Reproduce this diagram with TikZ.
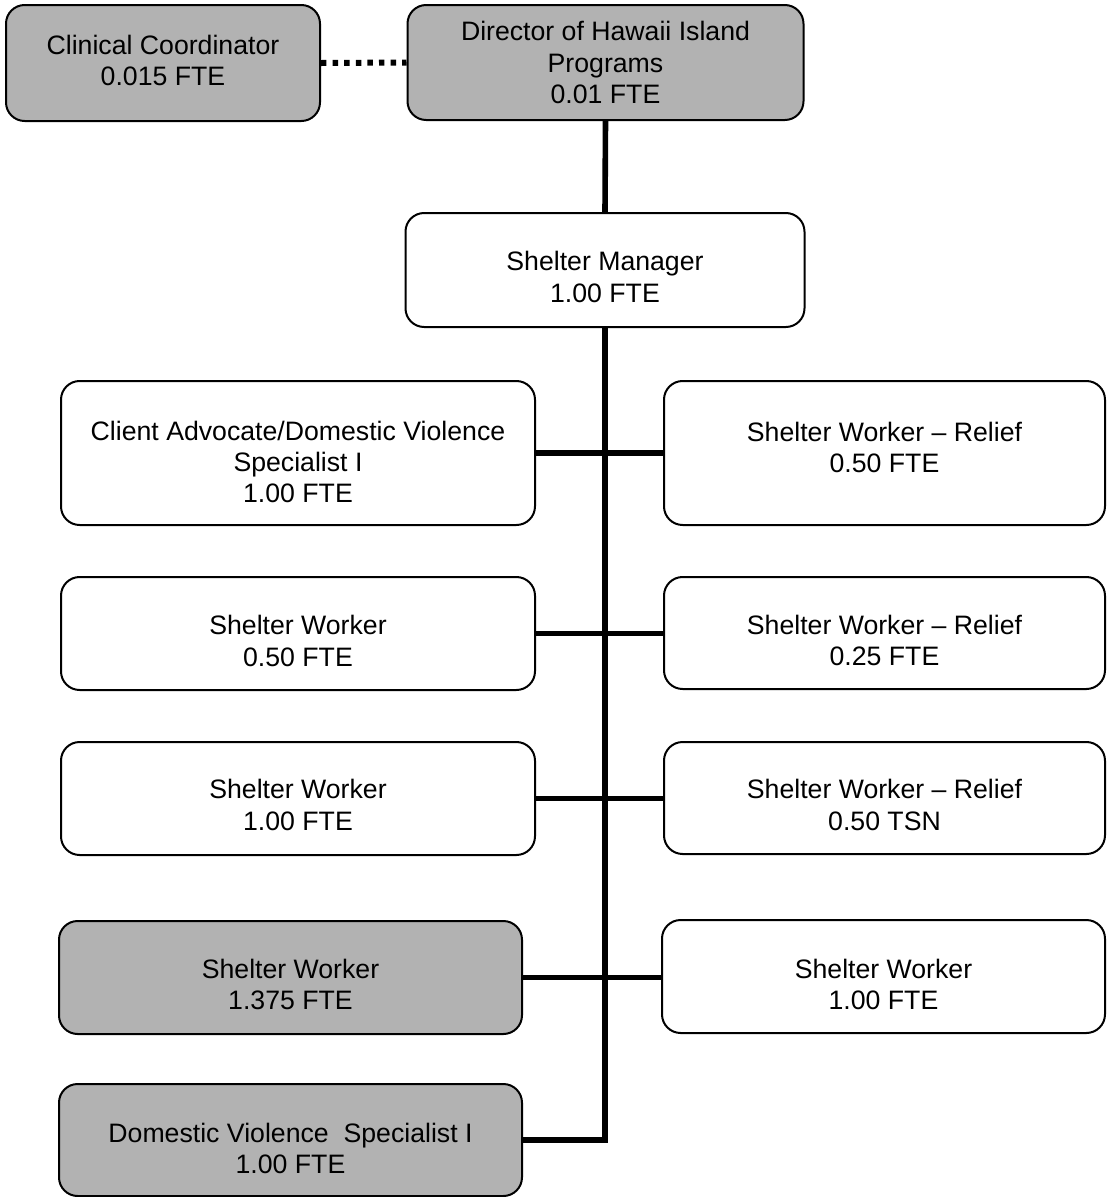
\documentclass[tikz,border=0pt]{standalone}
\usepackage{fontspec}
\setmainfont{Liberation Sans}
\definecolor{boxgray}{RGB}{178,178,178}
\tikzset{
  box/.style={draw=black, line width=1.5pt, rounded corners=14pt, fill=white, inner sep=0pt},
  graybox/.style={box, fill=boxgray},
  txt/.style={align=center, font=\fontsize{20}{23.5}\selectfont, inner sep=0pt},
  conn/.style={line width=4.2pt, line cap=butt},
  dotline/.style={line width=4.5pt, dash pattern=on 4.1pt off 4.6pt}
}
% #1 name, #2 style, #3 cx, #4 cy, #5 width pt, #6 height pt, #7 text shift pt, #8 text
\newcommand\obox[8]{%
  \node[#2, minimum width=#5pt, minimum height=#6pt] (#1) at (#3,#4) {};
  \node[txt] (#1-t) at ([yshift=#7pt]#1.center) {#8};}
\begin{document}
\begin{tikzpicture}[x=0.75pt, y=-0.75pt]
\useasboundingbox (0,0) rectangle (1107,1197);
\obox{cc}{graybox}{163}{63}{235.5}{87}{1.9}{Clinical Coordinator\\0.015 FTE}
\obox{dir}{graybox}{605.5}{62.5}{297}{86.25}{0}{Director of Hawaii Island\\Programs\\0.01 FTE}
\obox{sm}{box}{605}{270}{299.25}{85.5}{-5.25}{Shelter Manager\\1.00 FTE}
\obox{ca}{box}{298}{453}{355.5}{108}{-6.75}{Client Advocate/Domestic Violence\\Specialist I\\1.00 FTE}
\obox{swa}{box}{298}{633.5}{355.5}{84.75}{-5.6}{Shelter Worker\\0.50 FTE}
\obox{swb}{box}{298}{798.5}{355.5}{84.75}{-4.9}{Shelter Worker\\1.00 FTE}
\obox{gsw}{graybox}{290.5}{977.5}{347.25}{84.75}{-5.25}{Shelter Worker\\1.375 FTE}
\obox{dvs}{graybox}{290.5}{1140}{347.25}{84}{-6.4}{Domestic Violence\ \ Specialist I\\1.00 FTE}
\obox{ra}{box}{884.5}{453}{330.75}{108}{4.1}{Shelter Worker -- Relief\\0.50 FTE}
\obox{rb}{box}{884.5}{633}{330.75}{84}{-5.6}{Shelter Worker -- Relief\\0.25 FTE}
\obox{rc}{box}{884.5}{798}{330.75}{84}{-5.25}{Shelter Worker -- Relief\\0.50 TSN}
\obox{rd}{box}{883.5}{976.5}{332.25}{84.75}{-6}{Shelter Worker\\1.00 FTE}
% connectors
\draw[dotline] (cc.east) -- (dir.west);
\draw[conn] (dir.south) -- (sm.north);
\draw[conn] (sm.south) -- (sm.south |- dvs.east) -- (dvs.east);
\draw[conn] (ca.east) -- (ra.west);
\draw[conn] (swa.east) -- (swa.east -| rb.west);
\draw[conn] (swb.east) -- (swb.east -| rc.west);
\draw[conn] (gsw.east) -- (gsw.east -| rd.west);
\end{tikzpicture}
\end{document}
